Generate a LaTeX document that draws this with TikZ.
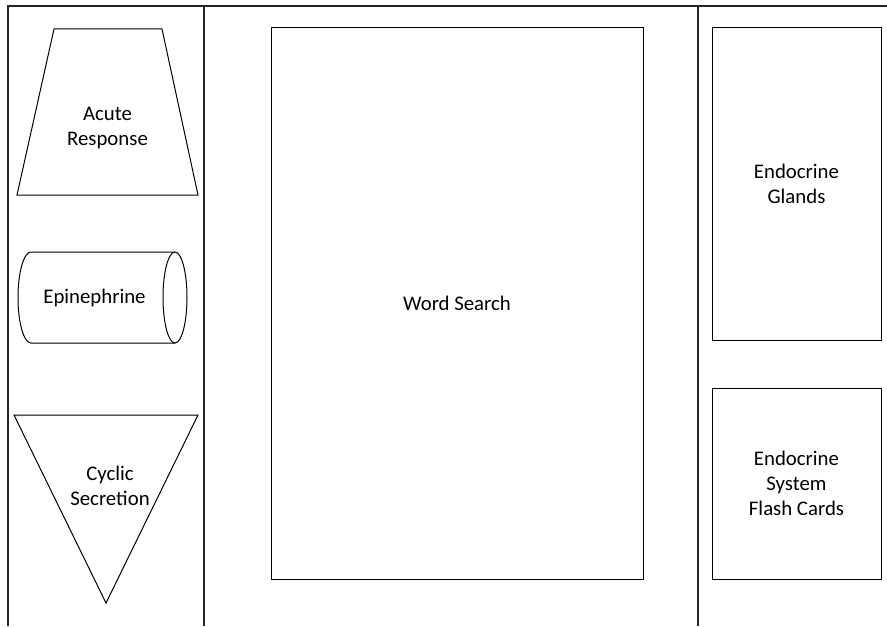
\documentclass[tikz,border=0pt]{standalone}
\usepackage{fontspec}
\setmainfont{Carlito}
\tikzset{
    card/.style={draw, line width=0.5pt, align=center, inner sep=0pt},
    caption/.style={align=center, inner sep=0pt},
    outline/.style={line width=0.5pt},
    frame/.style={line width=0.7pt, black!85}
}
\begin{document}
\begin{tikzpicture}[x=0.5pt, y=-0.5pt, font=\fontsize{10.4}{12.5}\selectfont]
    \useasboundingbox (0,0) rectangle (887,626);
    % frame
    \draw[frame] (887,6) -- (8,6) -- (8,626);
    \draw[frame] (204,6) -- (204,626);
    \draw[frame] (698,6) -- (698,626);
    % left column
    \draw[outline] (54,29) -- (162,29) -- (198,195) -- (17,195) -- cycle;
    \node[caption] (acute) at (107.5,128) {Acute\\Response};
    \draw[outline] (175,252) -- (31,252) arc[start angle=270, end angle=90, x radius=13, y radius=45.5] -- (175,343);
    \draw[outline] (175,297.5) ellipse [x radius=12, y radius=45.5];
    \node[caption] (epi) at (94.5,297.5) {Epinephrine};
    \draw[outline] (14,415) -- (198,415) -- (106,603) -- cycle;
    \node[caption] (cyclic) at (110,485.5) {Cyclic\\Secretion};
    % middle
    \node[card, minimum width=186pt, minimum height=275.5pt] (search) at (457,303.5) {Word Search};
    % right column
    \node[card, minimum width=84.5pt, minimum height=156pt] (glands) at (796.5,184) {Endocrine\\Glands};
    \node[card, minimum width=84.5pt, minimum height=95.5pt] (cards) at (796.5,483.5) {Endocrine\\System\\Flash Cards};
\end{tikzpicture}
\end{document}
